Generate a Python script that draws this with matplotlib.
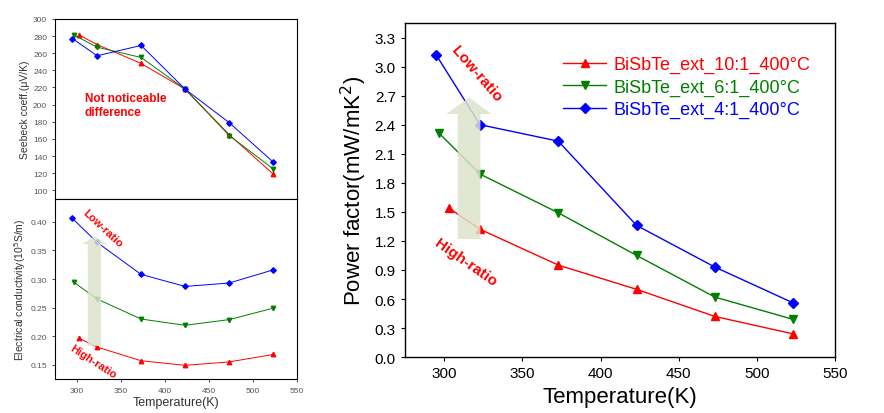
import matplotlib
matplotlib.use("Agg")
import matplotlib.pyplot as plt
from matplotlib.patches import FancyArrow

# Temperatures (K) for each series
t_10to1 = [303, 323, 373, 423, 473, 523]
t_6to1 = [297, 323, 373, 423, 473, 523]
t_4to1 = [295, 323, 373, 423, 473, 523]

# Seebeck coefficient (uV/K)
seebeck_10to1 = [281, 270, 248, 218, 165, 119]
seebeck_6to1 = [281, 267, 255, 218, 164, 125]
seebeck_4to1 = [277, 257, 269, 218, 179, 133]

# Electrical conductivity (10^5 S/m)
sigma_10to1 = [0.196, 0.181, 0.157, 0.149, 0.155, 0.168]
sigma_6to1 = [0.294, 0.265, 0.230, 0.219, 0.229, 0.249]
sigma_4to1 = [0.406, 0.364, 0.308, 0.287, 0.293, 0.316]

# Power factor (mW/mK^2)
pf_10to1 = [1.54, 1.32, 0.95, 0.70, 0.42, 0.24]
pf_6to1 = [2.31, 1.89, 1.49, 1.05, 0.62, 0.39]
pf_4to1 = [3.12, 2.40, 2.23, 1.36, 0.93, 0.56]

labels = ["BiSbTe_ext_10:1_400\u00b0C", "BiSbTe_ext_6:1_400\u00b0C", "BiSbTe_ext_4:1_400\u00b0C"]
colors = ["#ff0000", "#008000", "#0000ff"]
markers = ["^", "v", "D"]

plt.rcParams["font.family"] = ["Liberation Sans", "DejaVu Sans"]

fig = plt.figure(figsize=(8.84, 4.14), dpi=100)
ax_s = fig.add_axes([0.062, 0.517, 0.274, 0.435])
ax_c = fig.add_axes([0.062, 0.082, 0.274, 0.435])
ax_p = fig.add_axes([0.458, 0.135, 0.487, 0.807])

arrow_col = "#dce3cc"
grey = "#555555"

# --- Seebeck ---
for t, y, c, m in zip([t_10to1, t_6to1, t_4to1],
                      [seebeck_10to1, seebeck_6to1, seebeck_4to1], colors, markers):
    ax_s.plot(t, y, color=c, marker=m, ms=3.2 if m != "D" else 2.8, lw=0.7)
ax_s.set_xlim(275, 550)
ax_s.set_ylim(90, 300)
ax_s.set_yticks(range(100, 301, 20))
ax_s.set_xticks([])
ax_s.tick_params(axis="y", labelsize=6, labelcolor=grey, length=2, width=0.5)
ax_s.set_ylabel("Seebeck coeff.(\u03bcV/K)", fontsize=7.5, color="#333333", labelpad=2)
ax_s.text(309, 200, "Not noticeable\ndifference", color="#ff0000", fontsize=8.5,
          fontweight="bold", va="center", ha="left", linespacing=1.2)

# --- Conductivity ---
for t, y, c, m in zip([t_10to1, t_6to1, t_4to1],
                      [sigma_10to1, sigma_6to1, sigma_4to1], colors, markers):
    ax_c.plot(t, y, color=c, marker=m, ms=3.2 if m != "D" else 2.8, lw=0.7)
ax_c.set_xlim(275, 550)
ax_c.set_ylim(0.125, 0.44)
ax_c.set_yticks([0.15, 0.20, 0.25, 0.30, 0.35, 0.40])
ax_c.set_xticks([300, 350, 400, 450, 500, 550])
ax_c.tick_params(labelsize=6, labelcolor=grey, length=2, width=0.5)
ax_c.set_ylabel("Electrical conductivity(10$^5$S/m)", fontsize=7.5, color="#333333", labelpad=2)
ax_c.set_xlabel("Temperature(K)", fontsize=9, color="#333333", labelpad=2)
ax_c.add_patch(FancyArrow(320, 0.183, 0, 0.178, width=15, head_width=28,
                          head_length=0.014, length_includes_head=False,
                          color=arrow_col, alpha=0.85, lw=0, zorder=5))
ax_c.text(329, 0.389, "Low-ratio", color="#ff0000", fontsize=8, fontweight="bold",
          rotation=-43, ha="center", va="center", zorder=6)
ax_c.text(318, 0.156, "High-ratio", color="#ff0000", fontsize=8, fontweight="bold",
          rotation=-33, ha="center", va="center", zorder=6)

for a in (ax_s, ax_c):
    for sp in a.spines.values():
        sp.set_linewidth(0.8)

# --- Power factor ---
for t, y, c, m, lab in zip([t_10to1, t_6to1, t_4to1],
                           [pf_10to1, pf_6to1, pf_4to1], colors, markers, labels):
    ax_p.plot(t, y, color=c, marker=m, ms=6 if m != "D" else 5, lw=1.0, label=lab)
ax_p.set_xlim(275, 550)
ax_p.set_ylim(0, 3.45)
ax_p.set_yticks([0.0, 0.3, 0.6, 0.9, 1.2, 1.5, 1.8, 2.1, 2.4, 2.7, 3.0, 3.3])
ax_p.set_yticklabels([f"{v:.1f}" for v in ax_p.get_yticks()])
ax_p.set_xticks([300, 350, 400, 450, 500, 550])
ax_p.tick_params(labelsize=11, length=3)
ax_p.set_xlabel("Temperature(K)", fontsize=16, labelpad=4)
ax_p.set_ylabel("Power factor(mW/mK$^2$)", fontsize=16, labelpad=4)
for sp in ax_p.spines.values():
    sp.set_linewidth(1.0)

ax_p.add_patch(FancyArrow(316, 1.22, 0, 1.29, width=14.5, head_width=29,
                          head_length=0.17, length_includes_head=False,
                          color=arrow_col, alpha=0.85, lw=0, zorder=5))
ax_p.text(321, 2.93, "Low-ratio", color="#ff0000", fontsize=11, fontweight="bold",
          rotation=-49, ha="center", va="center", zorder=6)
ax_p.text(314, 0.98, "High-ratio", color="#ff0000", fontsize=11, fontweight="bold",
          rotation=-35, ha="center", va="center", zorder=6)

leg = ax_p.legend(loc="upper right", bbox_to_anchor=(0.98, 0.95), frameon=False,
                  fontsize=13, handlelength=2.4, labelspacing=0.3, handletextpad=0.4)
for txt, c in zip(leg.get_texts(), colors):
    txt.set_color(c)

fig.savefig("out.png", dpi=100, facecolor="white")
